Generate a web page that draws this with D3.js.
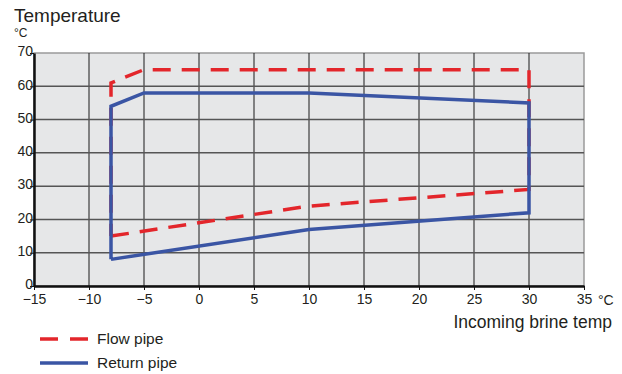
<!DOCTYPE html>
<html>
<head>
<meta charset="utf-8">
<script src="https://cdn.jsdelivr.net/npm/d3@7"></script>
<style>
  body { margin: 0; background: #fff; }
  text { font-family: "Liberation Sans", Arial, sans-serif; fill: #231f20; }
</style>
</head>
<body>
<svg id="drawing_region"></svg>
<script>
// brine temperature (x) vs pipe temperature (y), outline of operating area
const flowX   = [-8, 10, 30, 30, -5, -8, -8];
const flowY   = [15, 24, 29, 65, 65, 61, 15];
const returnX = [-8, 10, 30, 30, 10, -5, -8, -8];
const returnY = [ 8, 17, 22, 55, 58, 58, 54,  8];
const xTicks = [-15, -10, -5, 0, 5, 10, 15, 20, 25, 30, 35];
const yTicks = [0, 10, 20, 30, 40, 50, 60, 70];
const seriesNames = ["Flow pipe", "Return pipe"];
const seriesColors = ["#e3262b", "#3a55a4"];

const config = {
    width: 622, height: 374,
    margin: {top: 53, right: 38, bottom: 88, left: 34}
};
const inner_width = config.width - config.margin.left - config.margin.right;
const inner_height = config.height - config.margin.top - config.margin.bottom;

const svg = d3.select('#drawing_region')
    .attr('width', config.width)
    .attr('height', config.height);

const chart = svg.append('g')
    .attr('transform', `translate(${config.margin.left}, ${config.margin.top})`);

const xscale = d3.scaleLinear().domain([-15, 35]).range([0, inner_width]);
const yscale = d3.scaleLinear().domain([0, 70]).range([inner_height, 0]);

// background
chart.append('rect')
    .attr('width', inner_width).attr('height', inner_height)
    .attr('fill', '#e6e7e8')
    .attr('stroke', '#9a9a9a').attr('stroke-width', 1.5);

// grid
chart.selectAll('.vgrid').data(xTicks.slice(1, -1)).enter().append('line')
    .attr('x1', d => xscale(d)).attr('x2', d => xscale(d))
    .attr('y1', 0).attr('y2', inner_height)
    .attr('stroke', '#1a1a1a').attr('stroke-width', 1);
chart.selectAll('.hgrid').data(yTicks.slice(1, -1)).enter().append('line')
    .attr('x1', 0).attr('x2', inner_width)
    .attr('y1', d => yscale(d)).attr('y2', d => yscale(d))
    .attr('stroke', '#555').attr('stroke-width', 1.5);

// axes
const xaxis = d3.axisBottom(xscale).tickValues(xTicks).tickSize(4).tickSizeOuter(0);
const yaxis = d3.axisLeft(yscale).tickValues(yTicks).tickSize(4).tickSizeOuter(0);

const xg = chart.append('g').attr('transform', `translate(0, ${inner_height})`).call(xaxis);
const yg = chart.append('g').call(yaxis);
[xg, yg].forEach(g => {
    g.select('.domain').attr('stroke', '#111').attr('stroke-width', 2.5);
    g.selectAll('.tick line').attr('stroke', '#111').attr('stroke-width', 1);
    g.selectAll('.tick text').attr('fill', '#231f20')
        .style('font-family', '"Liberation Sans", Arial, sans-serif').style('font-size', '14px');
});
xg.selectAll('.tick text').attr('y', 7).attr('dy', '0.8em');
yg.selectAll('.tick text').attr('x', -1).attr('dy', '0.2em');

// lines
const line = d3.line()
    .x(d => xscale(d[0]))
    .y(d => yscale(d[1]));

chart.append('path')
    .attr('d', line(d3.zip(flowX, flowY)))
    .attr('fill', 'none')
    .attr('stroke', seriesColors[0])
    .attr('stroke-width', 3.5)
    .attr('stroke-dasharray', '18 11');

chart.append('path')
    .attr('d', line(d3.zip(returnX, returnY)))
    .attr('fill', 'none')
    .attr('stroke', seriesColors[1])
    .attr('stroke-width', 3.5)
    .attr('stroke-linejoin', 'miter');

// titles
svg.append('text').attr('x', 14).attr('y', 22)
    .style('font-size', '19px').text('Temperature');
svg.append('text').attr('x', 14).attr('y', 37)
    .style('font-size', '12px').text('°C');
svg.append('text').attr('x', 598).attr('y', 305)
    .style('font-size', '14px').text('°C');
svg.append('text').attr('x', 612).attr('y', 328)
    .attr('text-anchor', 'end')
    .style('font-size', '17.5px').text('Incoming brine temp');

// legend
const legend = svg.append('g');
seriesNames.forEach((name, i) => {
    const y = 339 + i * 24;
    legend.append('line')
        .attr('x1', 40).attr('x2', 88).attr('y1', y).attr('y2', y)
        .attr('stroke', seriesColors[i]).attr('stroke-width', 3.5)
        .attr('stroke-dasharray', i === 0 ? '18 12' : null);
    legend.append('text').attr('x', 97).attr('y', y + 5)
        .style('font-size', '15.5px').text(name);
});
</script>
</body>
</html>
